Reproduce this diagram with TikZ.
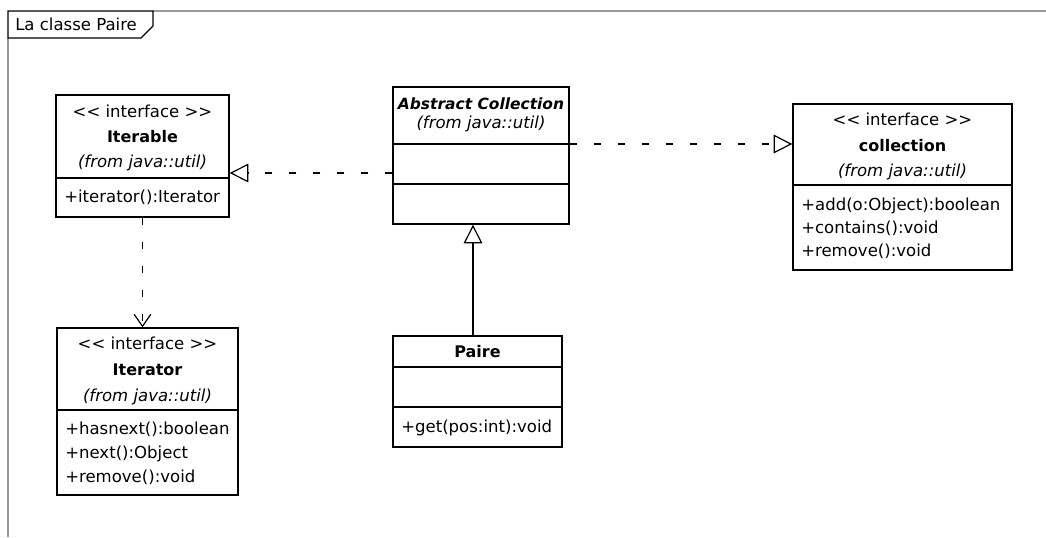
\documentclass[tikz,border=0pt]{standalone}
\usepackage{fontspec}
\setmainfont{DejaVu Sans}
\usetikzlibrary{arrows.meta,fit}
\newcommand\stlt{<\kern0pt<}
\newcommand\stgt{>\kern0pt>}
\begin{document}
\begin{tikzpicture}[x=0.75pt,y=-0.75pt,
  umlbox/.style={draw, line width=1pt, inner sep=0pt},
  txt/.style={inner sep=0pt, anchor=base, font=\fontsize{12.4}{14}\selectfont},
  meth/.style={txt, anchor=base west},
  umldash/.style={line width=0.9pt, dash pattern=on 5.25pt off 12.75pt},
  realize/.style={umldash, -{Triangle[open,length=14pt,width=14pt]}},
  depend/.style={umldash, -{Straight Barb[length=9pt,width=12.5pt]}},
  inherit/.style={line width=0.9pt, -{Triangle[open,length=14pt,width=14pt]}},
  divider/.style={line width=1pt},
  frameline/.style={draw=black!40, line width=1pt}
]
\useasboundingbox (0,0) rectangle (1046,537);

% frame
\draw[frameline] (153,11) -- (1046,11);
\draw[frameline] (8,38) -- (8,537);
\draw[line width=1pt] (8,11) -- (153,11) -- (153,26) -- (141,38) -- (8,38) -- cycle;
\node[meth] (title) at (15,30) {La classe Paire};

% helper levels
\coordinate (yIt) at (0,178);
\coordinate (yAc1) at (0,144);
\coordinate (yAc2) at (0,184);
\coordinate (yCo) at (0,185);
\coordinate (yIr) at (0,410);
\coordinate (yPa1) at (0,367);
\coordinate (yPa2) at (0,407);
\coordinate (yReal) at (0,173);
\coordinate (xInh) at (473,0);

% Iterable
\node[umlbox, fit={(56,95)(229,217)}] (iterable) {};
\draw[divider] (iterable.west |- yIt) -- (iterable.east |- yIt);
\node[txt] (iterableSt) at (142.5,117) {\stlt{} interface \stgt};
\node[txt, font=\fontsize{12}{14}\selectfont\bfseries] (iterableName) at (142.5,142) {Iterable};
\node[txt, font=\fontsize{12.4}{14}\selectfont\itshape] (iterableFrom) at (142.5,167) {(from java::util)};
\node[meth] (iterableM1) at (64,202) {+iterator():Iterator};

% Abstract Collection
\node[umlbox, fit={(393,87)(569,224)}] (abstract) {};
\draw[divider] (abstract.west |- yAc1) -- (abstract.east |- yAc1);
\draw[divider] (abstract.west |- yAc2) -- (abstract.east |- yAc2);
\node[txt, font=\fontsize{11.6}{14}\selectfont\bfseries\itshape] (abstractName) at (481,109) {Abstract Collection};
\node[txt, font=\fontsize{12.4}{14}\selectfont\itshape] (abstractFrom) at (481,128) {(from java::util)};

% collection
\node[umlbox, fit={(793,104)(1012,270)}] (collection) {};
\draw[divider] (collection.west |- yCo) -- (collection.east |- yCo);
\node[txt] (collectionSt) at (902.5,125) {\stlt{} interface \stgt};
\node[txt, font=\fontsize{12}{14}\selectfont\bfseries] (collectionName) at (902.5,151) {collection};
\node[txt, font=\fontsize{12.4}{14}\selectfont\itshape] (collectionFrom) at (902.5,176) {(from java::util)};
\node[meth] (collectionM1) at (801,210) {+add(o:Object):boolean};
\node[meth] (collectionM2) at (801,233) {+contains():void};
\node[meth] (collectionM3) at (801,256) {+remove():void};

% Iterator
\node[umlbox, fit={(57,328)(238,495)}] (iterator) {};
\draw[divider] (iterator.west |- yIr) -- (iterator.east |- yIr);
\node[txt] (iteratorSt) at (147.5,349) {\stlt{} interface \stgt};
\node[txt, font=\fontsize{12}{14}\selectfont\bfseries] (iteratorName) at (147.5,375) {Iterator};
\node[txt, font=\fontsize{12.4}{14}\selectfont\itshape] (iteratorFrom) at (147.5,401) {(from java::util)};
\node[meth] (iteratorM1) at (65,434) {+hasnext():boolean};
\node[meth] (iteratorM2) at (65,458) {+next():Object};
\node[meth] (iteratorM3) at (65,482) {+remove():void};

% Paire
\node[umlbox, fit={(393,336)(562,447)}] (paire) {};
\draw[divider] (paire.west |- yPa1) -- (paire.east |- yPa1);
\draw[divider] (paire.west |- yPa2) -- (paire.east |- yPa2);
\node[txt, font=\fontsize{12}{14}\selectfont\bfseries] (paireName) at (477.5,357) {Paire};
\node[meth] (paireM1) at (401,432) {+get(pos:int):void};

% connectors
\draw[realize] (abstract.west |- yReal) -- (iterable.east |- yReal);
\draw[realize] (abstract.east |- yAc1) -- (collection.west |- yAc1);
\draw[inherit] (paire.north -| xInh) -- (abstract.south -| xInh);
\draw[depend] (iterable.south) -- (iterator.north -| iterable.south);
\end{tikzpicture}
\end{document}
